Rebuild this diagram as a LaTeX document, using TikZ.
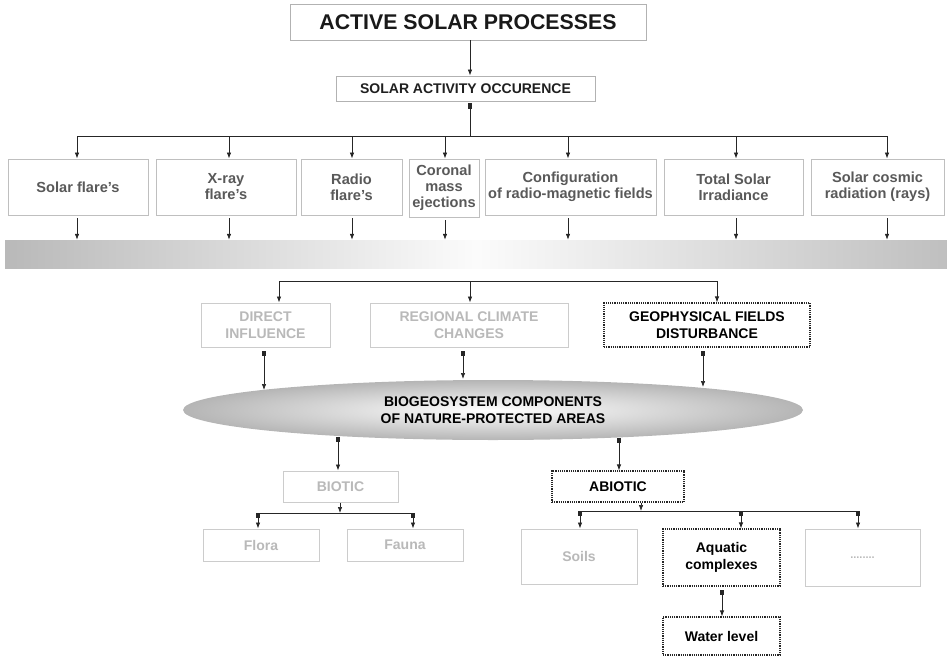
\documentclass[tikz,border=0pt]{standalone}
\usepackage{fontspec}
\setmainfont{Liberation Sans}
\usetikzlibrary{arrows.meta,shapes.geometric,calc}
\begin{document}
\begin{tikzpicture}[x=1pt,y=-1pt,
  every node/.style={inner sep=0pt, align=center},
  lbox/.style={draw=gray!50, line width=0.9pt, fill=white, text=black!65, font=\bfseries\fontsize{14.6}{16}\selectfont},
  gbox/.style={draw=gray!40, line width=1pt, fill=white, text=gray!55, font=\bfseries\fontsize{14}{16.5}\selectfont},
  dbox/.style={draw=black!85, line width=1.2pt, densely dotted, fill=white, text=black, font=\bfseries\fontsize{14}{16.5}\selectfont},
  arr/.style={draw=black!85, line width=0.7pt, -{Latex[length=6pt,width=4.5pt]}},
  sqarr/.style={draw=black!85, line width=0.7pt, {Square[length=5pt,width=3.5pt]}-{Latex[length=6pt,width=4.5pt]}},
  sqline/.style={draw=black!85, line width=0.7pt, {Square[length=5pt,width=3.5pt]}-},
  busline/.style={draw=black!85, line width=0.7pt}]
\useasboundingbox (0,0) rectangle (947,658);

% title
\node[draw=gray!60, line width=0.9pt, minimum width=356pt, minimum height=36pt, fill=white,
      font=\bfseries\fontsize{21.3}{24}\selectfont, text=black!90] (title) at (468,22) {ACTIVE SOLAR PROCESSES};
\node[draw=gray!60, line width=0.9pt, minimum width=259pt, minimum height=25pt, fill=white,
      font=\bfseries\fontsize{14}{16}\selectfont, text=black!88] (sao) at (465.5,88.5) {SOLAR ACTIVITY OCCURENCE};
\draw[arr] (title.south -| 470,0) -- (sao.north -| 470,0);

% top row boxes
\node[lbox, minimum width=140pt, minimum height=56pt] (b1) at (78,187) {Solar flare's};
\node[lbox, minimum width=140pt, minimum height=56pt] (b2) at (226,187) {X-ray\\flare's};
\node[lbox, minimum width=101pt, minimum height=56pt] (b3) at (351.5,187) {Radio\\flare's};
\node[lbox, minimum width=70pt, minimum height=58pt] (b4) at (444,188) {Coronal\\mass\\ejections};
\node[lbox, minimum width=171pt, minimum height=56pt] (b5) at (570.5,187) {Configuration\\of radio-magnetic fields};
\node[lbox, minimum width=139pt, minimum height=56pt] (b6) at (733.5,187) {Total Solar\\Irradiance};
\node[lbox, minimum width=133pt, minimum height=56pt] (b7) at (877.5,187) {Solar cosmic\\radiation (rays)};

% bus 1
\coordinate (t0) at (470,136);
\coordinate (t1) at (77,136);
\coordinate (t2) at (229,136);
\coordinate (t3) at (352,136);
\coordinate (t4) at (445,136);
\coordinate (t5) at (568,136);
\coordinate (t6) at (736,136);
\coordinate (t7) at (887,136);
\draw[sqline, shorten <=2pt] (sao.south -| t0) -- (t0);
\draw[busline] (t1) -- (t7);
\foreach \i in {1,...,7} {
  \draw[arr] (t\i) -- (t\i |- b\i.north);
}

% band
\node[minimum width=942pt, minimum height=28pt, left color=gray!55, right color=gray!50, middle color=gray!3] (band) at (476,254) {};
\foreach \i in {1,...,7} {
  \draw[arr, shorten <=3pt] (t\i |- b\i.south) -- (t\i |- band.north);
}

% second row
\node[gbox, minimum width=129pt, minimum height=44pt] (d1) at (265.5,325) {DIRECT\\INFLUENCE};
\node[gbox, minimum width=198pt, minimum height=44pt] (d2) at (469,325) {REGIONAL CLIMATE\\CHANGES};
\node[dbox, minimum width=206pt, minimum height=44pt] (d3) at (707,325) {GEOPHYSICAL FIELDS\\DISTURBANCE};
\coordinate (u1) at (279,281);
\coordinate (u2) at (470,281);
\coordinate (u3) at (717,281);
\draw[busline] (u1) -- (u3);
\foreach \i in {1,2,3} {
  \draw[arr] (u\i) -- (u\i |- d\i.north);
}

% ellipse
\node[ellipse, minimum width=620pt, minimum height=60pt, inner color=white, outer color=gray!58,
      font=\bfseries\fontsize{14}{17}\selectfont, text=black] (ell) at (493,410) {BIOGEOSYSTEM COMPONENTS\\OF NATURE-PROTECTED AREAS};
\draw[sqarr, shorten <=3pt] (d1.south -| 264,0) -- ($(ell.center)+(-229,-20)$);
\draw[sqarr, shorten <=3pt] (d2.south -| 463,0) -- ($(ell.center)+(-30,-31)$);
\draw[sqarr, shorten <=3pt] (d3.south -| 703,0) -- ($(ell.center)+(210,-23)$);

% biotic / abiotic
\node[gbox, minimum width=115pt, minimum height=31pt] (bio) at (340.5,486.5) {BIOTIC};
\node[dbox, minimum width=132pt, minimum height=31pt] (abio) at (618,486.5) {ABIOTIC};
\draw[sqarr] ($(ell.center)+(-155,27)$) -- (bio.north -| 338,0);
\draw[sqarr] ($(ell.center)+(126,28)$) -- (abio.north -| 619,0);

% biotic children
\node[gbox, minimum width=116pt, minimum height=32pt] (flora) at (261,545) {Flora};
\node[gbox, minimum width=116pt, minimum height=32pt] (fauna) at (405,545) {Fauna};
\coordinate (fb0) at (340,513);
\coordinate (fb1) at (258,513);
\coordinate (fb2) at (413,513);
\draw[arr] (bio.south -| fb0) -- (fb0);
\draw[busline] (fb1) -- (fb2);
\draw[sqarr] (fb1) -- (fb1 |- flora.north);
\draw[sqarr] (fb2) -- (fb2 |- fauna.north);

% abiotic children
\node[gbox, minimum width=116pt, minimum height=55pt] (soils) at (579,556.5) {Soils};
\node[dbox, minimum width=117pt, minimum height=57pt] (aqua) at (721.5,557.5) {Aquatic\\complexes};
\node[gbox, minimum width=115pt, minimum height=57pt] (more) at (862.5,557.5) {\fontsize{11}{12}\selectfont ........};
\coordinate (ab0) at (641,511);
\coordinate (ab1) at (580,511);
\coordinate (ab2) at (741,511);
\coordinate (ab3) at (858,511);
\draw[arr] (abio.south -| ab0) -- (ab0);
\draw[busline] (ab1) -- (ab3);
\draw[sqarr] (ab1) -- (ab1 |- soils.north);
\draw[sqarr] (ab2) -- (ab2 |- aqua.north);
\draw[sqarr] (ab3) -- (ab3 |- more.north);

% water level
\node[dbox, minimum width=117pt, minimum height=38pt] (water) at (721.5,636) {Water level};
\draw[sqarr, shorten <=3pt] (aqua.south -| 722,0) -- (water.north -| 722,0);
\end{tikzpicture}
\end{document}
